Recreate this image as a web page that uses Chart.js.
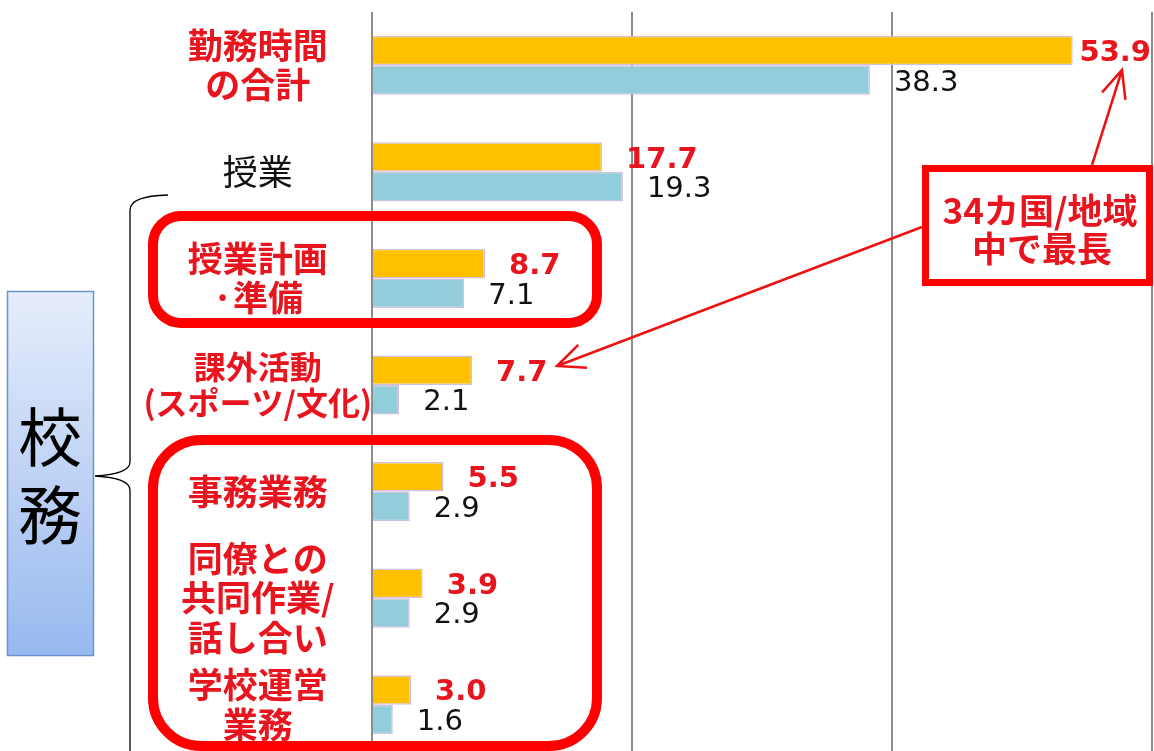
<!DOCTYPE html>
<html><head><meta charset="utf-8">
<script src="https://cdn.jsdelivr.net/npm/chart.js@4/dist/chart.umd.min.js"></script>
<style>html,body{margin:0;padding:0;background:#fff;overflow:hidden;width:1154px;height:751px}canvas{display:block}</style>
</head><body>
<canvas id="c" width="1154" height="758" style="width:1154px;height:758px"></canvas>
<script>
const categories = [
  ['勤務時間','の合計'],
  '授業',
  ['授業計画','·準備'],
  ['課外活動','(スポーツ/文化)'],
  '事務業務',
  ['同僚との','共同作業/','話し合い'],
  ['学校運営','業務']
];
const japanHours = [53.9, 17.7, 8.7, 7.7, 5.5, 3.9, 3.0];
const averageHours = [38.3, 19.3, 7.1, 2.1, 2.9, 2.9, 1.6];
const seriesNames = ['日本', '参加国平均'];
const xTickValues = [0, 20, 40, 60];
const groupLabel = ['校', '務'];
const calloutLines = ['34カ国/地域', '中で最長'];

const RED = '#e8141e';
const CJK = '"Noto Sans CJK JP", sans-serif';
const NUM = '"DejaVu Sans", sans-serif';

const valueLabels = {
  id: 'valueLabels',
  afterDatasetsDraw(chart) {
    const ctx = chart.ctx, area = chart.chartArea;
    chart.data.datasets.forEach((ds, di) => {
      const meta = chart.getDatasetMeta(di);
      ctx.save();
      ctx.font = (di === 0 ? 'bold ' : '') + '29px ' + NUM;
      ctx.fillStyle = di === 0 ? RED : '#111';
      ctx.textBaseline = 'middle';
      ctx.textAlign = 'left';
      meta.data.forEach((bar, i) => {
        const txt = ds.data[i].toFixed(1);
        const w = ctx.measureText(txt).width;
        let x = bar.x + 24;
        if (x + w > area.right) x = Math.max(bar.x + 3, area.right - w - 1);
        ctx.fillText(txt, x, bar.y + 3);
      });
      ctx.restore();
    });
  }
};

function rr(ctx, x, y, w, h, r) {
  ctx.beginPath();
  ctx.moveTo(x + r, y);
  ctx.lineTo(x + w - r, y);
  ctx.arcTo(x + w, y, x + w, y + r, r);
  ctx.lineTo(x + w, y + h - r);
  ctx.arcTo(x + w, y + h, x + w - r, y + h, r);
  ctx.lineTo(x + r, y + h);
  ctx.arcTo(x, y + h, x, y + h - r, r);
  ctx.lineTo(x, y + r);
  ctx.arcTo(x, y, x + r, y, r);
  ctx.closePath();
}
function arrow(ctx, x1, y1, x2, y2, len, ang) {
  ctx.beginPath();
  ctx.moveTo(x1, y1); ctx.lineTo(x2, y2);
  const a = Math.atan2(y2 - y1, x2 - x1);
  ctx.moveTo(x2 - len * Math.cos(a - ang), y2 - len * Math.sin(a - ang));
  ctx.lineTo(x2, y2);
  ctx.lineTo(x2 - len * Math.cos(a + ang), y2 - len * Math.sin(a + ang));
  ctx.stroke();
}

const decorations = {
  id: 'decorations',
  afterDraw(chart) {
    const ctx = chart.ctx;
    ctx.save();
    const g = ctx.createLinearGradient(0, 291, 0, 655);
    g.addColorStop(0, '#e6edfb'); g.addColorStop(1, '#98b9ef');
    ctx.fillStyle = g; ctx.fillRect(7, 291, 86, 364);
    ctx.strokeStyle = '#6a94cf'; ctx.lineWidth = 1.5; ctx.strokeRect(7.5, 291.5, 86, 364);
    ctx.fillStyle = '#000'; ctx.font = '64px ' + CJK;
    ctx.textAlign = 'center'; ctx.textBaseline = 'middle';
    ctx.fillText(groupLabel[0], 50, 437);
    ctx.fillText(groupLabel[1], 50, 515);
    ctx.strokeStyle = '#000'; ctx.lineWidth = 1.3;
    ctx.beginPath();
    ctx.moveTo(168, 195);
    ctx.quadraticCurveTo(130, 196, 130, 210);
    ctx.lineTo(130, 462);
    ctx.quadraticCurveTo(130, 474, 95, 476);
    ctx.quadraticCurveTo(130, 478, 130, 490);
    ctx.lineTo(130, 760);
    ctx.stroke();
    ctx.strokeStyle = '#ff0000'; ctx.lineWidth = 10;
    rr(ctx, 153, 216, 444, 107, 28); ctx.stroke();
    rr(ctx, 153, 440, 444, 306, 48); ctx.stroke();
    ctx.fillStyle = '#fff';
    ctx.fillRect(925, 168, 225, 115);
    ctx.lineWidth = 7;
    ctx.strokeRect(925.5, 168.5, 224, 114);
    ctx.fillStyle = RED; ctx.font = 'bold 35px ' + CJK;
    ctx.fillText(calloutLines[0], 1040, 211);
    ctx.fillText(calloutLines[1], 1042, 249);
    ctx.strokeStyle = '#ee1111'; ctx.lineWidth = 2.5;
    arrow(ctx, 1092, 165, 1122, 70, 30, 0.42);
    arrow(ctx, 922, 227, 557, 366, 30, 0.42);
    ctx.restore();
  }
};

new Chart(document.getElementById('c'), {
  type: 'bar',
  data: {
    labels: categories,
    datasets: [
      { label: seriesNames[0], data: japanHours, backgroundColor: '#ffc000', borderColor: '#cfc0dc', borderWidth: 1.5 },
      { label: seriesNames[1], data: averageHours, backgroundColor: '#92cddc', borderColor: '#cfc0dc', borderWidth: 1.5 }
    ]
  },
  options: {
    indexAxis: 'y',
    responsive: false,
    animation: false,
    devicePixelRatio: 1,
    categoryPercentage: 0.555,
    barPercentage: 1,
    layout: { padding: { top: 12, left: 0, right: 2, bottom: 0 } },
    plugins: { legend: { display: false }, tooltip: { enabled: false } },
    scales: {
      x: {
        min: xTickValues[0], max: xTickValues[xTickValues.length - 1],
        afterBuildTicks(s) { s.ticks = xTickValues.map(v => ({ value: v })); },
        afterFit(s) { s.paddingLeft = 0; s.paddingRight = 0; },
        ticks: { display: false },
        border: { display: false },
        grid: { color: '#8c8c8c', lineWidth: 2, drawTicks: false }
      },
      y: {
        afterFit(s) { s.width = 372; s.paddingTop = 0; s.paddingBottom = 0; },
        border: { display: false },
        grid: { display: false, drawTicks: false },
        ticks: {
          crossAlign: 'center',
          padding: 0,
          autoSkip: false,
          color: c => c.index === 1 ? '#111' : RED,
          font: c => ({ family: CJK, size: c.index === 3 ? 32 : 35, weight: c.index === 1 ? 'normal' : 'bold', lineHeight: 1.12 })
        }
      }
    }
  },
  plugins: [valueLabels, decorations]
});
</script>
</body></html>
